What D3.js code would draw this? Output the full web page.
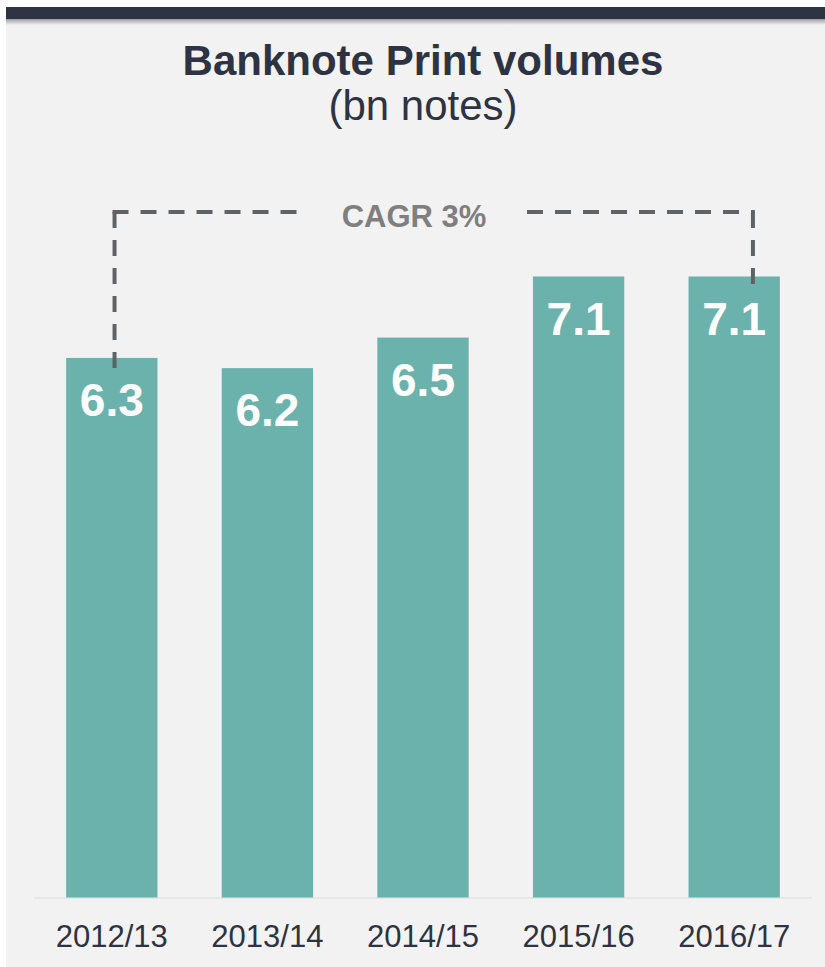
<!DOCTYPE html>
<html>
<head>
<meta charset="utf-8">
<script src="https://cdn.jsdelivr.net/npm/d3@7"></script>
<style>
  html, body { margin: 0; padding: 0; background: #ffffff; }
  svg { display: block; font-family: "Liberation Sans", Arial, sans-serif; }
</style>
</head>
<body>
<div id="chart"></div>
<script>
const years = ["2012/13", "2013/14", "2014/15", "2015/16", "2016/17"]
const volumes = [6.3, 6.2, 6.5, 7.1, 7.1]
const valueLabels = ["6.3", "6.2", "6.5", "7.1", "7.1"]
const cagrLabel = "CAGR 3%"

const width = 825
const height = 967

const svg = d3.select("#chart").append("svg")
  .attr("width", width).attr("height", height)

const defs = svg.append("defs")
const grad = defs.append("linearGradient").attr("id", "shadow")
  .attr("x1", 0).attr("x2", 0).attr("y1", 0).attr("y2", 1)
grad.append("stop").attr("offset", 0).attr("stop-color", "#9a9ca2")
grad.append("stop").attr("offset", 1).attr("stop-color", "#f2f2f2")

// panel + header bar
svg.append("rect").attr("x", 6).attr("y", 7).attr("width", width - 6).attr("height", height - 7)
  .attr("fill", "#f2f2f2")
svg.append("rect").attr("x", 6).attr("y", 19).attr("width", width - 6).attr("height", 6)
  .attr("fill", "url(#shadow)")
svg.append("rect").attr("x", 6).attr("y", 7).attr("width", width - 6).attr("height", 12)
  .attr("fill", "#2f3443")

// titles
svg.append("text").attr("x", 423).attr("y", 75)
  .attr("text-anchor", "middle").attr("font-size", 42).attr("font-weight", 700)
  .attr("fill", "#2e3344").text("Banknote Print volumes")
svg.append("text").attr("x", 423).attr("y", 120)
  .attr("text-anchor", "middle").attr("font-size", 42)
  .attr("fill", "#2e3344").text("(bn notes)")

// scales
const x = d3.scaleBand().domain(years).range([34, 812]).paddingInner(0.413).paddingOuter(0.2065)
const y = d3.scaleLinear().domain([1, 7.1]).range([897.5, 276.5])

// baseline
svg.append("line").attr("x1", 34).attr("x2", 812)
  .attr("y1", y(1) + 0.5).attr("y2", y(1) + 0.5)
  .attr("stroke", "#e3e3e3").attr("stroke-width", 1.5)

// bars
const data = years.map((d, i) => ({ year: d, value: volumes[i], label: valueLabels[i] }))

svg.append("g").selectAll("rect")
  .data(data)
  .join("rect")
  .attr("x", d => x(d.year))
  .attr("y", d => y(d.value))
  .attr("width", x.bandwidth())
  .attr("height", d => y(1) - y(d.value))
  .attr("fill", "#6bb2ac")

// value labels
svg.append("g").selectAll("text")
  .data(data)
  .join("text")
  .attr("x", d => x(d.year) + x.bandwidth() / 2)
  .attr("y", d => y(d.value) + 58)
  .attr("text-anchor", "middle")
  .attr("font-size", 46).attr("font-weight", 700)
  .attr("fill", "#ffffff")
  .text(d => d.label)

// category axis
svg.append("g").attr("transform", `translate(0,${y(1)})`)
  .call(d3.axisBottom(x).tickSize(0).tickPadding(0))
  .call(g => g.select(".domain").remove())
  .call(g => g.selectAll(".tick text")
    .attr("y", 49.5).attr("dy", null)
    .attr("font-size", 31).attr("font-family", "Liberation Sans, Arial, sans-serif")
    .attr("fill", "#2e3344"))

// CAGR bracket
const first = data[0], last = data[data.length - 1]
const lx = x(first.year) + x.bandwidth() * 0.53
const rx = x(last.year) + x.bandwidth() * 0.705
const topY = 212
const dash = { stroke: "#606366", "stroke-width": 4, "stroke-dasharray": "16,12", fill: "none" }
const bracket = svg.append("g")
const paths = [
  `M${lx},${topY} V${y(first.value) + 14}`,
  `M${lx - 2},${topY} H300`,
  `M${rx},${topY} V${y(last.value) + 8}`,
  `M527,${topY} H${rx + 2}`
]
paths.forEach(p => {
  const el = bracket.append("path").attr("d", p)
  Object.entries(dash).forEach(([k, v]) => el.attr(k, v))
})

bracket.append("text").attr("x", 414).attr("y", 227)
  .attr("text-anchor", "middle").attr("font-size", 31).attr("font-weight", 700)
  .attr("fill", "#7f7f7f").text(cagrLabel)
</script>
</body>
</html>
